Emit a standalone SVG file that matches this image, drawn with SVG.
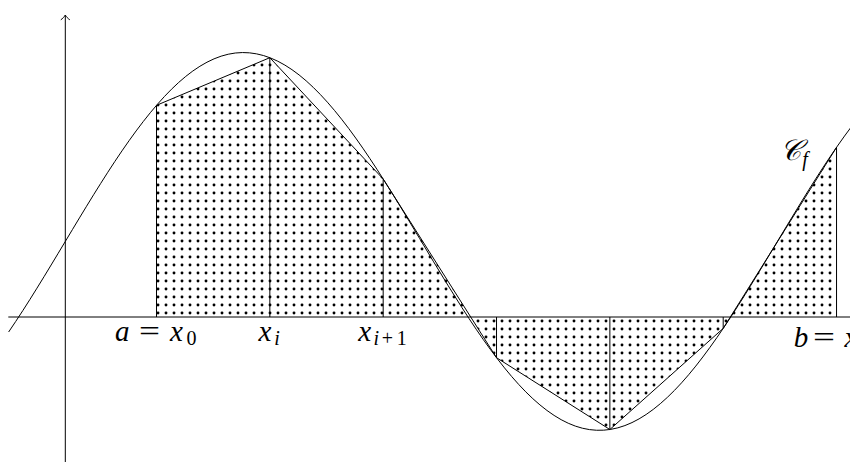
<svg xmlns="http://www.w3.org/2000/svg" width="850" height="462" viewBox="0 0 850 462">
  <style>
    .ln { fill: none; stroke: #000; stroke-width: 1; }
    .it { font-family: "Liberation Serif", "DejaVu Serif", serif; font-style: italic; font-size: 29px; fill: #000; }
    .rm { font-family: "Liberation Serif", "DejaVu Serif", serif; font-style: normal; font-size: 29px; fill: #000; }
    .sub { font-size: 20px; }
  </style>
  <defs>
    <pattern id="dots" patternUnits="userSpaceOnUse" x="154" y="309" width="8" height="8">
      <circle cx="4" cy="4" r="1.45" fill="#000"/>
    </pattern>
  </defs>
  <rect width="850" height="462" fill="#fff"/>

  <g id="shading">
    <path d="M 156.5 317 L 156.5 105.3 L 269.84 57.7 L 383.18 179.0 L 496.52 357.7 L 609.86 429.5 L 723.2 328.4 L 836.54 147.3 L 836.54 317 Z" fill="url(#dots)" fill-rule="nonzero" stroke="none"/>
  </g>

  <g id="axes">
    <line class="ln" x1="8.3" y1="317" x2="860" y2="317"/>
    <line class="ln" x1="65.3" y1="462" x2="65.3" y2="15.5"/>
    <path class="ln" d="M 60.8 19.8 C 62.6 18.6, 64.5 16.6, 65.3 15 C 66.1 16.6, 68 18.6, 69.8 19.8"/>
  </g>

  <g id="subdivision">
    <line class="ln" x1="156.5" y1="317" x2="156.5" y2="105.3"/>
    <line class="ln" x1="269.84" y1="317" x2="269.84" y2="57.7"/>
    <line class="ln" x1="383.18" y1="317" x2="383.18" y2="179.0"/>
    <line class="ln" x1="496.52" y1="317" x2="496.52" y2="357.7"/>
    <line class="ln" x1="609.86" y1="317" x2="609.86" y2="429.5"/>
    <line class="ln" x1="723.2" y1="317" x2="723.2" y2="328.4"/>
    <line class="ln" x1="836.54" y1="317" x2="836.54" y2="147.3"/>
    <polyline class="ln" points="156.5,105.3 269.84,57.7 383.18,179.0 496.52,357.7 609.86,429.5 723.2,328.4 836.54,147.3"/>
  </g>

  <g id="curve">
    <path class="ln" d="M 8.63 332.00 C 27.52 304.37, 46.41 272.92, 65.3 241.44 C 84.19 209.96, 103.08 178.51, 121.97 150.88 C 140.86 123.25, 159.75 99.50, 178.64 82.49 C 197.53 65.48, 216.42 55.24, 235.31 53.01 C 254.20 50.78, 273.09 56.57, 291.98 69.67 C 310.87 82.77, 329.76 103.17, 348.65 128.39 C 367.54 153.61, 386.43 183.61, 405.32 214.78 C 424.21 245.95, 443.10 278.22, 461.99 307.70 C 480.88 337.18, 499.77 363.82, 518.66 384.40 C 537.55 404.98, 556.44 419.46, 575.33 426.10 C 594.22 432.74, 613.11 431.51, 632.00 422.58 C 650.89 413.65, 669.78 397.03, 688.67 374.72 C 707.56 352.41, 726.45 324.45, 745.34 294.22 C 764.23 263.99, 783.12 231.55, 802.01 200.80 C 820.90 170.05, 839.79 141.06, 858.68 117.33"/>
  </g>

  <g id="labels">
    <g id="label-a">
      <text class="it" x="115" y="340.7">a</text>
      <text class="rm" x="139" y="340.7" textLength="21" lengthAdjust="spacingAndGlyphs">=</text>
      <text class="it" x="176.5" y="340.7" text-anchor="middle">x</text>
      <text class="rm sub" x="191.5" y="345" text-anchor="middle">0</text>
    </g>
    <g id="label-xi">
      <text class="it" x="265" y="340.7" text-anchor="middle">x</text>
      <text class="it sub" x="277" y="345" text-anchor="middle">i</text>
    </g>
    <g id="label-xi1">
      <text class="it" x="364.7" y="340.7" text-anchor="middle">x</text>
      <text class="it sub" x="376.3" y="345" text-anchor="middle">i</text>
      <text class="rm sub" x="387.5" y="345" text-anchor="middle">+</text>
      <text class="rm sub" x="401.7" y="345" text-anchor="middle">1</text>
    </g>
    <g id="label-b">
      <text class="it" x="801" y="346.7" text-anchor="middle">b</text>
      <text class="rm" x="813" y="346.7" textLength="22" lengthAdjust="spacingAndGlyphs">=</text>
      <text class="it" x="851" y="346.7" text-anchor="middle">x</text>
    </g>
    <g id="label-cf">
      <text class="it" x="790" y="160" text-anchor="middle">𝒞</text>
      <text class="it sub" x="805" y="166" text-anchor="middle">f</text>
    </g>
  </g>
</svg>
